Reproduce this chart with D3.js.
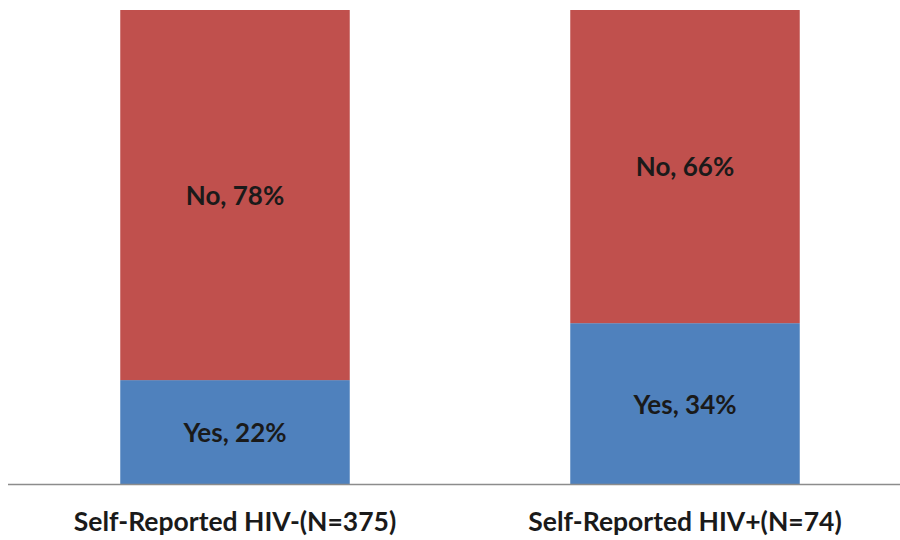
<!DOCTYPE html>
<html>
<head>
<meta charset="utf-8">
<script src="https://cdn.jsdelivr.net/npm/d3@7"></script>
<style>
  body { margin: 0; background: #fff; }
  text { font-family: Lato, "Open Sans", sans-serif; font-weight: 700; fill: #1a1a1a; }
</style>
</head>
<body>
<div id="chart"></div>
<script>
const groups = ["Self-Reported HIV-(N=375)", "Self-Reported HIV+(N=74)"];
const answers = ["Yes", "No"];
const yesPct = [22, 34];
const noPct = [78, 66];

const colors = { Yes: "#4f81bd", No: "#c0504d" };

const width = 900, height = 540;

const svg = d3
  .select("#chart")
  .append("svg")
  .attr("width", width)
  .attr("height", height);

const rows = groups.map((g, i) => ({ group: g, Yes: yesPct[i], No: noPct[i] }));
const series = d3.stack().keys(answers)(rows);

const x = d3
  .scaleBand()
  .domain(groups)
  .range([10, 910])
  .paddingInner(0.49)
  .paddingOuter(0.245);

const y = d3.scaleLinear().domain([0, 100]).range([484.5, 10]);

const layers = svg
  .selectAll("g.layer")
  .data(series)
  .enter()
  .append("g")
  .attr("class", "layer")
  .attr("fill", (d) => colors[d.key]);

layers
  .selectAll("rect")
  .data((d) => d)
  .enter()
  .append("rect")
  .attr("x", (d) => x(d.data.group))
  .attr("y", (d) => y(d[1]))
  .attr("width", x.bandwidth())
  .attr("height", (d) => y(d[0]) - y(d[1]));

// data labels
layers
  .selectAll("text")
  .data((d) => d.map((v) => ({ key: d.key, v })))
  .enter()
  .append("text")
  .attr("x", (d) => x(d.v.data.group) + x.bandwidth() / 2)
  .attr("y", (d) => (y(d.v[0]) + y(d.v[1])) / 2 + 3)
  .attr("text-anchor", "middle")
  .attr("dominant-baseline", "middle")
  .style("font-size", "26px")
  .text((d) => `${d.key}, ${d.v.data[d.key]}%`);

// x axis
const xAxis = svg
  .append("g")
  .attr("transform", `translate(0,${y(0)})`)
  .call(d3.axisBottom(x).tickSize(0).tickPadding(28));

xAxis.select(".domain").attr("d", "M8,0H900").attr("stroke", "#8c8c8c").attr("stroke-width", 1.5);
xAxis
  .selectAll(".tick text")
  .style("font-size", "26.5px")
  .style("font-family", "Lato, 'Open Sans', sans-serif")
  .style("font-weight", "700")
  .attr("fill", "#1a1a1a");
</script>
</body>
</html>
